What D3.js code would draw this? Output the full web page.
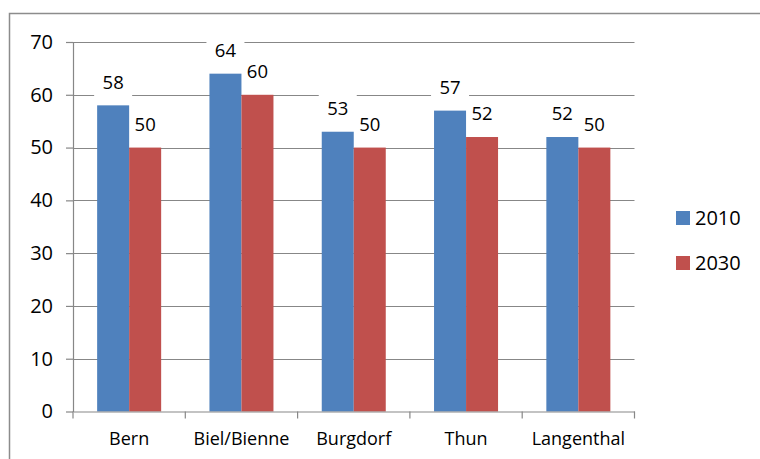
<!DOCTYPE html>
<html>
<head>
<meta charset="utf-8">
<script src="https://cdn.jsdelivr.net/npm/d3@7"></script>
<style>
  html, body { margin: 0; padding: 0; background: #fff; }
  svg { display: block; font-family: "Open Sans", "Noto Sans", sans-serif; }
</style>
</head>
<body>
<svg id="chart" width="760" height="459"></svg>
<script>
// Employment figures per town, 2010 vs. 2030
const categories = ["Bern", "Biel/Bienne", "Burgdorf", "Thun", "Langenthal"];
const seriesNames = ["2010", "2030"];
const values2010 = [58, 64, 53, 57, 52];
const values2030 = [50, 60, 50, 52, 50];
const yTicks = [0, 10, 20, 30, 40, 50, 60, 70];
const colors = ["#4F81BD", "#C0504D"];

const seriesValues = [values2010, values2030];
const rows = categories.map((c, i) => ({
  category: c,
  items: seriesNames.map((s, j) => ({ series: s, value: seriesValues[j][i], color: colors[j] }))
}));

const svg = d3.select("#chart");

// outer frame
svg.append("rect")
  .attr("x", 9.5).attr("y", 13.5)
  .attr("width", 800).attr("height", 500)
  .attr("fill", "#fff").attr("stroke", "#8c8c8c").attr("stroke-width", 1.5);

const plot = { left: 73, right: 634.5, top: 42, bottom: 411.5 };

const x = d3.scaleBand()
  .domain(categories)
  .range([plot.left, plot.right])
  .paddingInner(0.43)
  .paddingOuter(0.215);

const xFull = d3.scaleBand().domain(categories).range([plot.left, plot.right]);

const xSub = d3.scaleBand()
  .domain(seriesNames)
  .range([0, x.bandwidth()]);

const y = d3.scaleLinear().domain([0, 70]).range([plot.bottom, plot.top]);

const gridColor = "#878787";
const labelOffset = 23.5;
const labelX = d => xSub(d.series) + xSub.bandwidth() / 2;

// horizontal gridlines
svg.append("g")
  .selectAll("line")
  .data(yTicks.filter(t => t > 0))
  .join("line")
  .attr("x1", plot.left).attr("x2", plot.right)
  .attr("y1", d => Math.round(y(d)) + 0.5).attr("y2", d => Math.round(y(d)) + 0.5)
  .attr("stroke", gridColor).attr("stroke-width", 1.2);

// per-category groups
const groups = svg.append("g")
  .selectAll("g")
  .data(rows)
  .join("g")
  .attr("transform", d => `translate(${x(d.category)},0)`);

// white backing boxes behind value labels (under the bars, over the grid)
groups.selectAll("rect.bg")
  .data(d => d.items)
  .join("rect")
  .attr("class", "bg")
  .attr("x", d => labelX(d) - 19)
  .attr("y", d => y(d.value) - labelOffset - 17.5)
  .attr("width", 38).attr("height", 35)
  .attr("fill", "#fff");

// bars
groups.selectAll("rect.bar")
  .data(d => d.items)
  .join("rect")
  .attr("class", "bar")
  .attr("x", d => xSub(d.series))
  .attr("width", xSub.bandwidth())
  .attr("y", d => y(d.value))
  .attr("height", d => y(0) - y(d.value))
  .attr("fill", d => d.color);

// value labels
groups.selectAll("text.val")
  .data(d => d.items)
  .join("text")
  .attr("class", "val")
  .attr("x", labelX)
  .attr("y", d => y(d.value) - labelOffset)
  .attr("text-anchor", "middle")
  .attr("dy", "0.36em")
  .attr("font-size", 18.5)
  .attr("fill", "#000")
  .text(d => d.value);

// y axis
const yAxis = svg.append("g")
  .attr("transform", `translate(${plot.left},0)`)
  .call(d3.axisLeft(y).tickValues(yTicks).tickSize(7).tickPadding(13).tickSizeOuter(0));
yAxis.select(".domain").attr("stroke", gridColor).attr("stroke-width", 1.2);
yAxis.selectAll(".tick line").attr("stroke", gridColor).attr("stroke-width", 1.2);
yAxis.selectAll(".tick text")
  .attr("font-size", 20).attr("fill", "#000")
  .attr("font-family", "'Open Sans', sans-serif");

// x axis
const xAxis = svg.append("g")
  .attr("transform", `translate(0,${plot.bottom})`)
  .call(d3.axisBottom(xFull).tickSize(0).tickPadding(21).tickSizeOuter(0));
xAxis.select(".domain").attr("stroke", gridColor).attr("stroke-width", 1.2);
xAxis.selectAll(".tick text")
  .attr("font-size", 18).attr("fill", "#000")
  .attr("font-family", "'Open Sans', sans-serif");
// boundary ticks between categories
svg.append("g")
  .selectAll("line")
  .data(d3.range(categories.length + 1))
  .join("line")
  .attr("x1", i => i < categories.length ? xFull(categories[i]) : plot.right)
  .attr("x2", i => i < categories.length ? xFull(categories[i]) : plot.right)
  .attr("y1", plot.bottom).attr("y2", plot.bottom + 7)
  .attr("stroke", gridColor).attr("stroke-width", 1.2);

// legend
const legend = svg.append("g")
  .selectAll("g")
  .data(seriesNames)
  .join("g")
  .attr("transform", (d, i) => `translate(676,${211 + i * 45})`);

legend.append("rect")
  .attr("width", 14).attr("height", 14)
  .attr("fill", (d, i) => colors[i]);

legend.append("text")
  .attr("x", 19).attr("y", 7)
  .attr("dy", "0.36em")
  .attr("font-size", 20)
  .attr("fill", "#000")
  .text(d => d);
</script>
</body>
</html>
